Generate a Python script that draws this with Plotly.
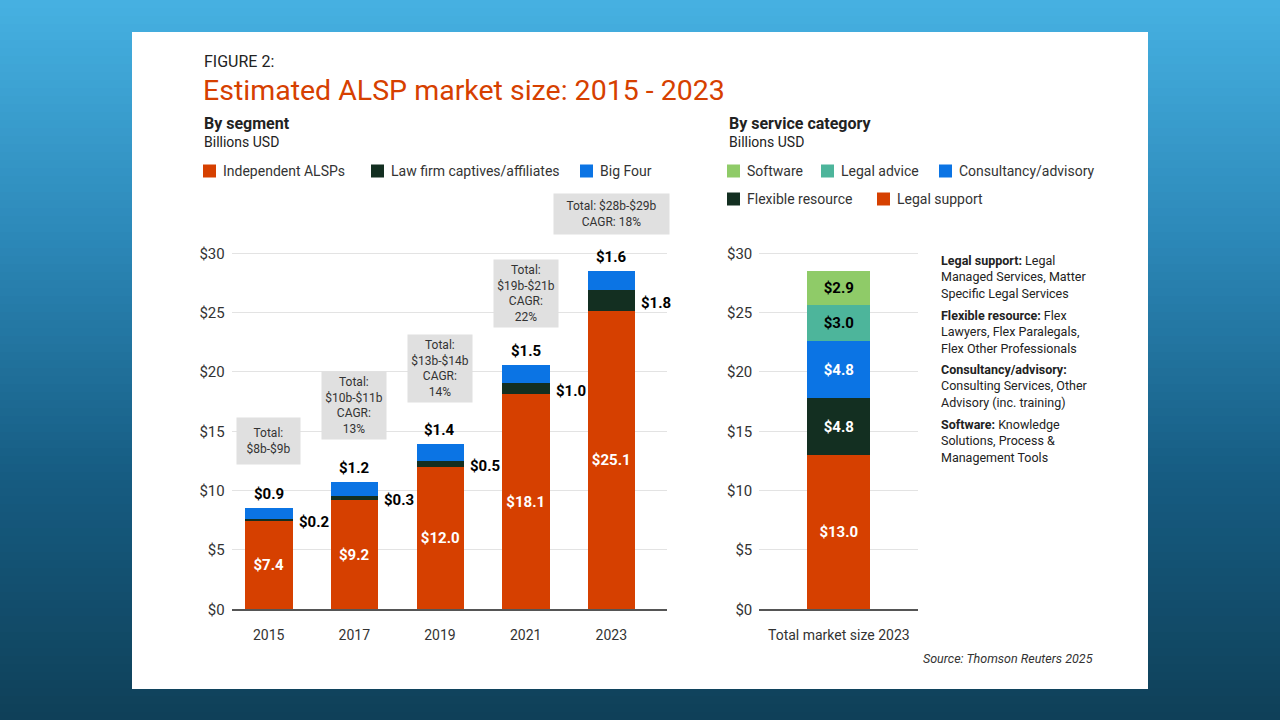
import plotly.graph_objects as go

# ---------------- data ----------------
years = ["2015", "2017", "2019", "2021", "2023"]
independent = [7.4, 9.2, 12.0, 18.1, 25.1]
law_firm = [0.2, 0.3, 0.5, 1.0, 1.8]
big_four = [0.9, 1.2, 1.4, 1.5, 1.6]
total_ranges = ["$8b-$9b", "$10b-$11b", "$13b-$14b", "$19b-$21b", "$28b-$29b"]
cagr = [None, "13%", "14%", "22%", "18%"]

service_x = ["Total market size 2023"]
legal_support = [13.0]
flexible_resource = [4.8]
consultancy = [4.8]
legal_advice = [3.0]
software = [2.9]

y_ticks = [0, 5, 10, 15, 20, 25, 30]
y_ticktext = ["$0", "$5", "$10", "$15", "$20", "$25", "$30"]

# ---------------- style ----------------
W, H = 1280, 720
FONT = "Roboto"
ORANGE = "#D64000"
DKGREEN = "#132F21"
BLUE = "#0B74E4"
LGREEN = "#8FCB68"
TEAL = "#4DB59B"
TXT = "#222222"


def px(x):
    return x / W


def py(y):
    return 1 - y / H


def nodollar(s):
    # avoid plotly's TeX detection for strings containing two "$"
    return s.replace("$", "&#36;")


fig = go.Figure()

# left chart
fig.add_trace(go.Bar(x=years, y=independent, name="Independent ALSPs", marker_color=ORANGE,
                     texttemplate="<b>$%{y:.1f}</b>", textposition="inside",
                     insidetextanchor="middle", textangle=0,
                     textfont=dict(family=FONT, size=15, color="white"),
                     width=0.552, xaxis="x", yaxis="y", showlegend=False))
fig.add_trace(go.Bar(x=years, y=law_firm, name="Law firm captives/affiliates", marker_color=DKGREEN,
                     width=0.552, xaxis="x", yaxis="y", showlegend=False))
fig.add_trace(go.Bar(x=years, y=big_four, name="Big Four", marker_color=BLUE,
                     width=0.552, xaxis="x", yaxis="y", showlegend=False))

# right chart
right_series = [
    ("Legal support", legal_support, ORANGE, "white"),
    ("Flexible resource", flexible_resource, DKGREEN, "white"),
    ("Consultancy/advisory", consultancy, BLUE, "white"),
    ("Legal advice", legal_advice, TEAL, "black"),
    ("Software", software, LGREEN, "black"),
]
for name, vals, col, tcol in right_series:
    fig.add_trace(go.Bar(x=service_x, y=vals, name=name, marker_color=col,
                         texttemplate="<b>$%{y:.1f}</b>", textposition="inside",
                         insidetextanchor="middle", textangle=0,
                         textfont=dict(family=FONT, size=15, color=tcol),
                         width=0.4, xaxis="x2", yaxis="y2", showlegend=False))

for b in fig.data:
    b.marker.line.width = 0

ydom = [py(609.3), py(609.3 - 36 * 11.867)]
yaxis_common = dict(range=[0, 36], tickvals=y_ticks, ticktext=y_ticktext,
                    showgrid=True, gridcolor="#e3e3e3", gridwidth=1, zeroline=False,
                    tickfont=dict(family=FONT, size=15, color="#333"),
                    ticks="", ticklabelstandoff=6, fixedrange=True, automargin=False)
xaxis_common = dict(showline=True, linecolor="#555", linewidth=1.5, ticks="",
                    tickfont=dict(family=FONT, size=14, color="#333"),
                    ticklabelstandoff=12, showgrid=False, fixedrange=True, automargin=False)

shapes = []
# gradient background
stops = [(0.0, (70, 177, 226)), (0.33, (44, 136, 184)), (0.66, (22, 92, 130)), (1.0, (15, 64, 88))]


def grad(t):
    for (t0, c0), (t1, c1) in zip(stops[:-1], stops[1:]):
        if t0 <= t <= t1:
            f = (t - t0) / (t1 - t0)
            return "rgb(%d,%d,%d)" % tuple(round(a + (b - a) * f) for a, b in zip(c0, c1))
    return "rgb(%d,%d,%d)" % stops[-1][1]


nb = 90
for i in range(nb):
    y0 = i * H / nb
    y1 = (i + 1) * H / nb + 0.6
    shapes.append(dict(type="rect", xref="paper", yref="paper", x0=0, x1=1,
                       y0=py(y1), y1=py(y0), fillcolor=grad((i + 0.5) / nb),
                       line=dict(width=0), layer="below"))
# white panel
shapes.append(dict(type="rect", xref="paper", yref="paper", x0=px(132), x1=px(1148),
                   y0=py(689), y1=py(32), fillcolor="white", line=dict(width=0), layer="below"))

annotations = []


def text(x, y, s, size, color=TXT, anchor="left", bold=False, italic=False, yanchor="middle"):
    if bold:
        s = "<b>" + s + "</b>"
    if italic:
        s = "<i>" + s + "</i>"
    annotations.append(dict(x=px(x), y=py(y), xref="paper", yref="paper", text=s,
                            showarrow=False, xanchor=anchor, yanchor=yanchor, align=anchor,
                            font=dict(family=FONT, size=size, color=color)))


text(202, 61, "FIGURE 2:", 16)
text(201, 90, "Estimated ALSP market size: 2015 - 2023", 28.5, color=ORANGE)
text(202, 123, "By segment", 16, bold=True)
text(202, 142, "Billions USD", 14)
text(727, 123, "By service category", 16, bold=True)
text(727, 142, "Billions USD", 14)


def legend_item(x, y, color, label):
    shapes.append(dict(type="rect", xref="paper", yref="paper", x0=px(x), x1=px(x + 13),
                       y0=py(y + 6.5), y1=py(y - 6.5), fillcolor=color, line=dict(width=0)))
    text(x + 18, y, label, 14, color="#333")


legend_item(203, 171, ORANGE, "Independent ALSPs")
legend_item(371, 171, DKGREEN, "Law firm captives/affiliates")
legend_item(580, 171, BLUE, "Big Four")
legend_item(727, 171, LGREEN, "Software")
legend_item(821, 171, TEAL, "Legal advice")
legend_item(939, 171, BLUE, "Consultancy/advisory")
legend_item(727, 199, DKGREEN, "Flexible resource")
legend_item(877, 199, ORANGE, "Legal support")

# data labels on left chart (category positions by index)
box_offsets = [43, 42, 41, 37, 36]
box_pads = [8, 3, 3, 3, 5]
box_widths = [47, 58, 58, 58, 105]
for i, yr in enumerate(years):
    total = independent[i] + law_firm[i] + big_four[i]
    annotations.append(dict(x=i, y=independent[i] + law_firm[i] / 2, xref="x", yref="y",
                            text="<b>$%.1f</b>" % law_firm[i], showarrow=False,
                            xanchor="left", yanchor="middle", xshift=28, yshift=-2,
                            font=dict(family=FONT, size=15, color="black")))
    annotations.append(dict(x=i, y=total, xref="x", yref="y",
                            text="<b>$%.1f</b>" % big_four[i], showarrow=False,
                            xanchor="center", yanchor="bottom", yshift=3,
                            font=dict(family=FONT, size=15, color="black")))
    if i == len(years) - 1:
        s = "Total: %s<br>CAGR: %s" % (total_ranges[i], cagr[i])
    elif cagr[i] is None:
        s = "Total:<br>%s" % total_ranges[i]
    else:
        s = "Total:<br>%s<br>CAGR:<br>%s" % (total_ranges[i], cagr[i])
    annotations.append(dict(x=i, y=total, xref="x", yref="y", text=nodollar(s), showarrow=False,
                            xanchor="center", yanchor="bottom", yshift=box_offsets[i],
                            width=box_widths[i], bgcolor="#e0e0e0", borderpad=box_pads[i],
                            align="center", font=dict(family=FONT, size=12, color="#333")))

# explanatory notes
notes = [
    ("Legal support:", " Legal<br>Managed Services, Matter<br>Specific Legal Services"),
    ("Flexible resource:", " Flex<br>Lawyers, Flex Paralegals,<br>Flex Other Professionals"),
    ("Consultancy/advisory:", "<br>Consulting Services, Other<br>Advisory (inc. training)"),
    ("Software:", " Knowledge<br>Solutions, Process &amp;<br>Management Tools"),
]
for k, (head, body) in enumerate(notes):
    annotations.append(dict(x=px(939), y=py(251 + k * 54.7), xref="paper", yref="paper",
                            text="<b>%s</b>%s" % (head, body), showarrow=False,
                            xanchor="left", yanchor="top", align="left",
                            font=dict(family=FONT, size=12.5, color=TXT)))

text(1095, 658, "Source: Thomson Reuters 2025", 12.5, color="#333", anchor="right", italic=True)

fig.update_layout(
    width=W, height=H, autosize=False, margin=dict(l=0, r=0, t=0, b=0, pad=0, autoexpand=False),
    paper_bgcolor="#0f4058", plot_bgcolor="rgba(0,0,0,0)",
    barmode="stack", bargap=0, showlegend=False,
    font=dict(family=FONT, color=TXT),
    xaxis=dict(domain=[px(231.7), px(666.7)], type="category", range=[-0.432, 4.647],
               anchor="y", **xaxis_common),
    yaxis=dict(domain=ydom, anchor="x", **yaxis_common),
    xaxis2=dict(domain=[px(759.3), px(918.3)], type="category", range=[-0.5, 0.5],
                anchor="y2", **xaxis_common),
    yaxis2=dict(domain=ydom, anchor="x2", **yaxis_common),
    shapes=shapes, annotations=annotations,
)

fig.write_html("out.html", config={"displayModeBar": False},
               post_script="document.body.style.margin='0';document.body.style.overflow='hidden';")
